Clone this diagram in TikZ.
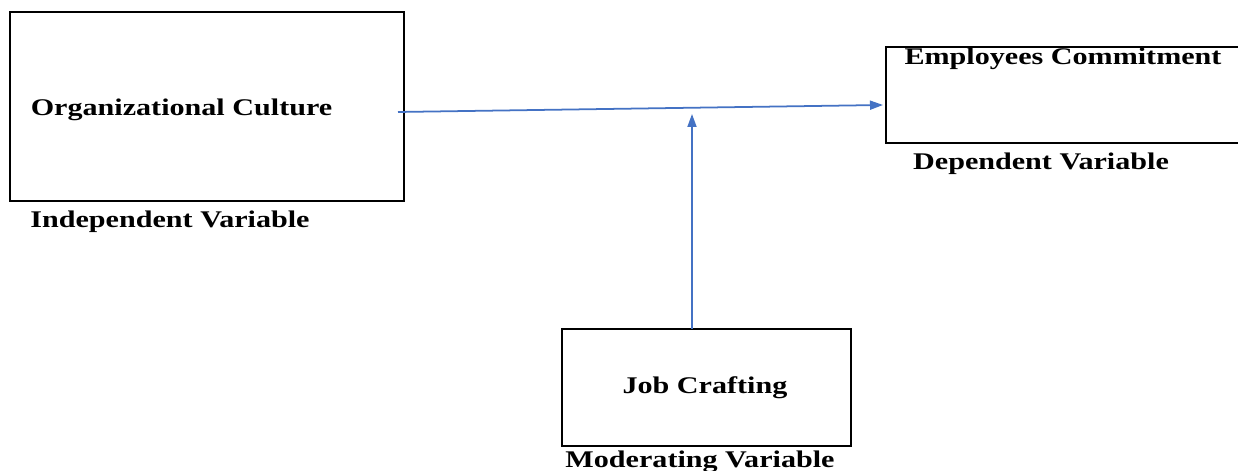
\documentclass[tikz,border=0pt]{standalone}
\usepackage{fontspec}
\setmainfont{Liberation Serif}[FakeStretch=1.26]
\usetikzlibrary{arrows.meta}
\definecolor{linkblue}{HTML}{4472C4}
\begin{document}
\begin{tikzpicture}[font=\fontsize{6.8}{8}\selectfont\bfseries]
			\clip (0,0) rectangle (12.38,4.71);
			\fill[white] (0,0) rectangle (12.38,4.71);

			\node[rectangle, draw, line width=0.5pt, minimum width=3.94cm, minimum height=1.89cm](cultureBox) at (2.07,3.645){};
			\node[rectangle, draw, line width=0.5pt, minimum width=3.64cm, minimum height=0.96cm](commitBox) at (10.68,3.76){};
			\node[rectangle, draw, line width=0.5pt, minimum width=2.89cm, minimum height=1.17cm](craftBox) at (7.065,0.835){};

			\node[inner sep=0pt](cultureText) at (1.815,3.61){Organizational Culture};
			\node[inner sep=0pt](commitText) at (10.63,4.12){Employees Commitment};
			\node[inner sep=0pt](craftText) at (7.05,0.83){Job Crafting};

			\node[inner sep=0pt](indepLabel) at (1.70,2.49){Independent Variable};
			\node[inner sep=0pt](depLabel) at (10.41,3.07){Dependent Variable};
			\node[inner sep=0pt](modLabel) at (7.00,0.09){Moderating Variable};

			\coordinate (cultureOut) at (3.98,3.59);
			\coordinate (commitIn) at (8.83,3.66);
			\coordinate (craftOut) at (6.92,1.42);
			\coordinate (linkMid) at (6.92,3.57);

			\draw[linkblue, line width=0.5pt, -{Triangle[length=1.3mm, width=0.9mm]}] (cultureOut) -- (commitIn);
			\draw[linkblue, line width=0.5pt, -{Triangle[length=1.3mm, width=0.9mm]}] (craftOut) -- (linkMid);
		\end{tikzpicture}
\end{document}
